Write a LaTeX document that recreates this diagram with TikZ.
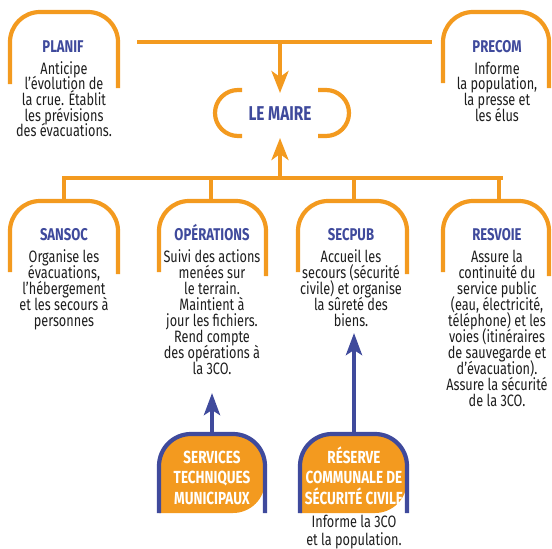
\documentclass[tikz,border=0pt]{standalone}
\usepackage{fontspec}
\setmainfont{Fira Sans}[FakeStretch=0.77]
\usetikzlibrary{arrows.meta}
\definecolor{org}{HTML}{F39A1F}
\definecolor{blu}{HTML}{3F4A9C}
\definecolor{ink}{HTML}{1E1E1E}
\newcommand{\lns}[2]{\vtop{\baselineskip=#1\lineskiplimit=-100pt\lineskip=0pt\halign{\hfil##\hfil\cr#2\crcr}}}
\tikzset{
 arch/.style={draw=org,line width=4.2pt,rounded corners=30pt},
 link/.style={draw=org,line width=4.2pt},
 oarrow/.style={link,-{Stealth[length=22pt,width=17pt,inset=6pt]}},
 barrow/.style={draw=blu,line width=4.2pt,-{Stealth[length=22pt,width=16pt,inset=5pt]}},
 bluebox/.style={draw=blu,line width=4.2pt,rounded corners=32pt},
 ttl/.style={anchor=base,inner sep=0pt,text=blu,font=\fontsize{17}{17}\selectfont\bfseries},
 body/.style={anchor=base,inner sep=0pt,text=ink,font=\fontsize{16.5}{16.5}\selectfont},
 wht/.style={anchor=base,inner sep=0pt,text=white,font=\fontsize{17.5}{17.5}\selectfont\bfseries},
}
\begin{document}
\begin{tikzpicture}[x=1pt,y=-1pt]
\useasboundingbox (0,0) rectangle (552,549);
% top arches
\draw[arch] (10,84) -- (10,12) -- (118,12) -- (118,88);
\draw[arch] (443,83) -- (443,12) -- (549,12) -- (549,88);
% bottom arches
\draw[arch] (10,272) -- (10,201) -- (118,201) -- (118,274);
\draw[arch] (159,272) -- (159,201) -- (266,201) -- (266,276);
\draw[arch] (298,272) -- (298,201) -- (407,201) -- (407,274);
\draw[arch] (443,272) -- (443,201) -- (549,201) -- (549,276);
% blue boxes
\fill[org,rounded corners=32pt] (159,513) -- (159,434) -- (265,434) -- (265,513) [sharp corners] -- cycle;
\draw[bluebox] (159,513) -- (159,434) -- (265,434) -- (265,513);
\fill[org,rounded corners=32pt] (300,513) -- (300,434) -- (407,434) -- (407,513) [sharp corners] -- cycle;
\draw[bluebox] (300,513) -- (300,434) -- (407,434) -- (407,513);
% le maire brackets
\draw[link] (242,90) -- (238,90) arc(270:90:23) -- (242,136);
\draw[link] (318,90) -- (326,90) arc(-90:90:23) -- (318,136);
% coordinates
\coordinate (topL) at (137,42);
\coordinate (topR) at (432,42);
\coordinate (topM) at (280,42);
\coordinate (maireN) at (280,93);
\coordinate (maireS) at (280,138);
\coordinate (botM) at (280,178);
\coordinate (botL) at (62,178);
\coordinate (botR) at (503,178);
\coordinate (d1) at (64,178);
\coordinate (d2) at (211,178);
\coordinate (d3) at (354,178);
\coordinate (d4) at (499,178);
\coordinate (a1) at (64,200);
\coordinate (a2) at (211,200);
\coordinate (a3) at (354,200);
\coordinate (a4) at (499,200);
\coordinate (stN) at (212,434);
\coordinate (stT) at (212,393);
\coordinate (rcN) at (354,434);
\coordinate (rcT) at (354,333);
% connectors
\draw[link] (topL) -- (topR);
\draw[oarrow] (topM) -- (maireN);
\draw[link] (botL) -- (botR);
\draw[oarrow] (botM) -- (maireS);
\draw[link] (d1) -- (a1);
\draw[link] (d2) -- (a2);
\draw[link] (d3) -- (a3);
\draw[link] (d4) -- (a4);
\draw[barrow] (stN) -- (stT);
\draw[barrow] (rcN) -- (rcT);
% texts
\node[ttl,font=\fontsize{20}{20}\selectfont\bfseries] (maire) at (280,120) {LE MAIRE};
\node[ttl] (planif) at (63,52) {PLANIF};
\node[body] (planifB) at (64,74) {\lns{15.7pt}{Anticipe\cr l’évolution de\cr la crue. Établit\cr les prévisions\cr des évacuations.}};
\node[ttl] (precom) at (497,52) {PRECOM};
\node[body] (precomB) at (497,74) {\lns{15.7pt}{Informe\cr la population,\cr la presse et\cr les élus}};
\node[ttl] (sansoc) at (64,240) {SANSOC};
\node[body] (sansocB) at (64,262) {\lns{16pt}{Organise les\cr évacuations,\cr l’hébergement\cr et les secours à\cr personnes}};
\node[ttl] (oper) at (212,240) {OPÉRATIONS};
\node[body] (operB) at (212,262) {\lns{16pt}{Suivi des actions\cr menées sur\cr le terrain.\cr Maintient à\cr jour les fichiers.\cr Rend compte\cr des opérations à\cr la 3CO.}};
\node[ttl] (secpub) at (351,240) {SECPUB};
\node[body] (secpubB) at (351,262) {\lns{16pt}{Accueil les\cr secours (sécurité\cr civile) et organise\cr la sûreté des\cr biens.}};
\node[ttl] (resvoie) at (497,240) {RESVOIE};
\node[body] (resvoieB) at (497,262) {\lns{16pt}{Assure la\cr continuité du\cr service public\cr (eau, électricité,\cr téléphone) et les\cr voies (itinéraires\cr de sauvegarde et\cr d'évacuation).\cr Assure la sécurité\cr de la 3CO.}};
\node[wht] (st) at (212,463) {\lns{20.5pt}{SERVICES\cr TECHNIQUES\cr MUNICIPAUX}};
\node[wht] (rc) at (354,463) {\lns{20.5pt}{RÉSERVE\cr COMMUNALE DE\cr SÉCURITÉ CIVILE}};
\node[body] (rcB) at (354,527) {\lns{18.5pt}{Informe la 3CO\cr et la population.}};
\end{tikzpicture}
\end{document}
